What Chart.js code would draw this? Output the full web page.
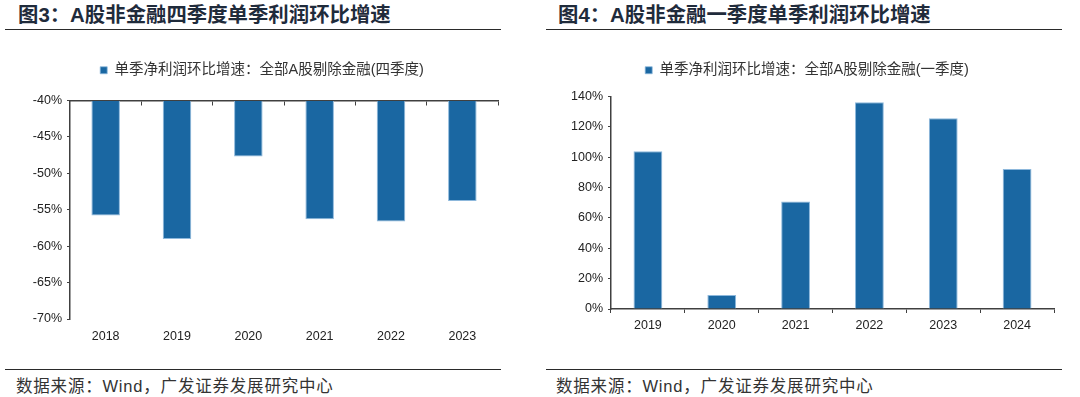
<!DOCTYPE html>
<html><head><meta charset="utf-8">
<script src="https://cdn.jsdelivr.net/npm/chart.js@4/dist/chart.umd.min.js"></script>
<style>
html,body{margin:0;padding:0;background:#fff;width:1080px;height:397px;overflow:hidden;position:relative;font-family:"Liberation Sans","Noto Sans CJK SC",sans-serif;}
.t{position:absolute;font-weight:bold;font-size:20.4px;color:#1f2b3b;white-space:nowrap;line-height:1;}
.ln{position:absolute;height:0;border-top:1.5px solid #2a2a2a;}
.f{position:absolute;font-size:16.5px;color:#333;white-space:nowrap;line-height:1;letter-spacing:0.8px;}
.cw{position:absolute;}
</style></head>
<body>
<div class="t" style="left:18px;top:5px">图3：A股非金融四季度单季利润环比增速</div>
<div class="t" style="left:558px;top:5px">图4：A股非金融一季度单季利润环比增速</div>
<div class="ln" style="left:5px;width:496px;top:29px"></div>
<div class="ln" style="left:546px;width:516px;top:29px"></div>
<div class="ln" style="left:5px;width:496px;top:368.5px"></div>
<div class="ln" style="left:546px;width:516px;top:368.5px"></div>
<div class="f" style="left:16px;top:378px">数据来源：Wind，广发证券发展研究中心</div>
<div class="f" style="left:556px;top:378px">数据来源：Wind，广发证券发展研究中心</div>
<div class="cw" style="left:26px;top:55px;width:474px;height:295px"><canvas id="c1" width="474" height="295"></canvas></div>
<div class="cw" style="left:560px;top:55px;width:496px;height:285px"><canvas id="c2" width="496" height="285"></canvas></div>
<script>
const years4 = ['2018','2019','2020','2021','2022','2023'];
const q4Growth = [-55.8, -59.0, -47.7, -56.3, -56.6, -53.8];
const q4Label = '单季净利润环比增速：全部A股剔除金融(四季度)';
const q4Ticks = [-40, -45, -50, -55, -60, -65, -70];

const years1 = ['2019','2020','2021','2022','2023','2024'];
const q1Growth = [104.0, 9.2, 70.9, 136.2, 125.7, 92.3];
const q1Label = '单季净利润环比增速：全部A股剔除金融(一季度)';
const q1Ticks = [0, 20, 40, 60, 80, 100, 120, 140];

const barColor = '#1a67a2';
const edgeColor = '#8db8dc';
const axisColor = '#404040';
const tickFont = {family:'"Liberation Sans", Arial, sans-serif', size:12.5};
const legendFont = {family:'"Liberation Sans", "Noto Sans CJK SC", sans-serif', size:14.5};

function legendPad(extra){
  return {id:'legendPad', beforeInit(chart){
    const orig = chart.legend.fit;
    chart.legend.fit = function(){ orig.bind(chart.legend)(); this.height += extra; };
  }};
}
const legendOpts = {
  display:true, position:'top', align:'center',
  labels:{boxWidth:7, boxHeight:7, padding:8, color:'#333', font:legendFont}
};

new Chart(document.getElementById('c1'), {
  type:'bar',
  data:{labels:years4, datasets:[{label:q4Label, data:q4Growth, base:-40,
    backgroundColor:barColor, borderColor:edgeColor, borderWidth:{left:1,right:1,bottom:1,top:0}, borderSkipped:false,
    barPercentage:0.4, categoryPercentage:1}]},
  options:{
    responsive:false, animation:false,
    layout:{padding:{left:0,right:2,top:0,bottom:0}},
    plugins:{legend:legendOpts, tooltip:{enabled:false}},
    scales:{
      y:{min:-70, max:-40, position:'left',
        afterBuildTicks(s){ s.ticks = q4Ticks.map(v=>({value:v})); },
        afterFit(s){ s.width = 44; },
        ticks:{font:tickFont, color:'#222', padding:5, callback:v=>v+'%'},
        grid:{drawOnChartArea:false, drawTicks:true, tickLength:3, color:axisColor},
        border:{display:true, color:axisColor, width:1.5}},
      x:{type:'category', position:'bottom',
        afterFit(s){ s.height = 31; },
        ticks:{font:tickFont, color:'#222', padding:10},
        grid:{display:false, drawTicks:false},
        border:{display:false}},
      x2:{type:'category', position:{y:-40}, offset:true,
        ticks:{display:false},
        grid:{offset:true, drawOnChartArea:false, drawTicks:true, tickLength:4, color:axisColor},
        border:{display:true, color:axisColor, width:1.5}}
    }
  },
  plugins:[legendPad(13)]
});

new Chart(document.getElementById('c2'), {
  type:'bar',
  data:{labels:years1, datasets:[{label:q1Label, data:q1Growth,
    backgroundColor:barColor, borderColor:edgeColor, borderWidth:{left:1,right:1,top:1,bottom:0}, borderSkipped:false,
    barPercentage:0.39, categoryPercentage:1}]},
  options:{
    responsive:false, animation:false,
    layout:{padding:{left:0,right:2,top:0,bottom:0}},
    plugins:{legend:legendOpts, tooltip:{enabled:false}},
    scales:{
      y:{min:0, max:140, position:'left',
        afterBuildTicks(s){ s.ticks = q1Ticks.map(v=>({value:v})); },
        afterFit(s){ s.width = 51; },
        ticks:{font:tickFont, color:'#222', padding:5, callback:v=>v+'%'},
        grid:{drawOnChartArea:false, drawTicks:true, tickLength:3, color:axisColor},
        border:{display:true, color:axisColor, width:1.5}},
      x:{type:'category', position:'bottom', offset:true,
        afterFit(s){ s.height = 31; },
        ticks:{font:tickFont, color:'#222', padding:5},
        grid:{offset:true, drawOnChartArea:false, drawTicks:true, tickLength:4, color:axisColor},
        border:{display:true, color:axisColor, width:1.5}}
    }
  },
  plugins:[legendPad(9)]
});
</script>
</body></html>
